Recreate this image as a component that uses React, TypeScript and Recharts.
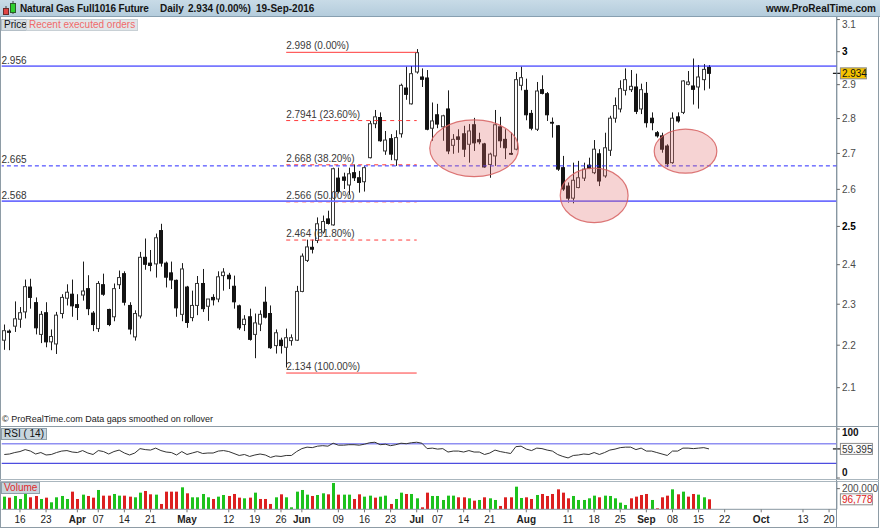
import React from 'react';
import { ComposedChart, Bar, Line, XAxis, YAxis, ReferenceLine, ReferenceArea } from 'recharts';

const FONT = '"Liberation Sans", Arial, Helvetica, sans-serif';
const SLOT_COUNT = 160;
const PLOT_LEFT = 1.7;
const AXIS_W = 43.1;
const CHART_W = 880;

// ---- daily OHLC (11-Mar-2016 .. 19-Sep-2016) ----
const openP = [
  2.212, 2.234, 2.246, 2.263, 2.281, 2.343, 2.304, 2.226, 2.279, 2.208,
  2.203, 2.277, 2.315, 2.325, 2.299, 2.323, 2.339, 2.278, 2.240, 2.349,
  2.287, 2.269, 2.349, 2.377, 2.297, 2.220, 2.271, 2.419, 2.404, 2.402,
  2.489, 2.404, 2.379, 2.360, 2.275, 2.343, 2.267, 2.297, 2.352, 2.295,
  2.317, 2.313, 2.372, 2.373, 2.345, 2.296, 2.250, 2.269, 2.226, 2.251,
  2.305, 2.277, 2.199, 2.212, 2.195, 2.211, 2.212, 2.332, 2.411, 2.445,
  2.463, 2.485, 2.520, 2.504, 2.631, 2.634, 2.612, 2.646, 2.632, 2.621,
  2.688, 2.785, 2.803, 2.707, 2.742, 2.682, 2.756, 2.890, 2.843, 2.938,
  2.923, 2.920, 2.772, 2.811, 2.776, 2.828, 2.723, 2.747, 2.756, 2.726,
  2.782, 2.739, 2.727, 2.669, 2.693, 2.776, 2.740, 2.700, 2.712, 2.898,
  2.883, 2.815, 2.769, 2.885, 2.873, 2.789, 2.779, 2.660, 2.609, 2.576,
  2.605, 2.631, 2.667, 2.646, 2.699, 2.637, 2.709, 2.801, 2.828, 2.883,
  2.885, 2.893, 2.828, 2.874, 2.801, 2.759, 2.750, 2.721, 2.674, 2.805,
  2.818, 2.901, 2.896, 2.893, 2.915, 2.952,
];
const highP = [
  2.250, 2.238, 2.307, 2.293, 2.362, 2.364, 2.317, 2.283, 2.305, 2.238,
  2.281, 2.325, 2.350, 2.362, 2.325, 2.408, 2.373, 2.283, 2.358, 2.377,
  2.289, 2.352, 2.385, 2.383, 2.305, 2.285, 2.433, 2.468, 2.438, 2.481,
  2.507, 2.408, 2.408, 2.362, 2.404, 2.346, 2.334, 2.371, 2.389, 2.313,
  2.325, 2.383, 2.391, 2.379, 2.372, 2.299, 2.273, 2.289, 2.277, 2.285,
  2.344, 2.297, 2.238, 2.218, 2.240, 2.226, 2.346, 2.429, 2.465, 2.465,
  2.524, 2.529, 2.542, 2.660, 2.660, 2.646, 2.660, 2.669, 2.651, 2.664,
  2.793, 2.825, 2.818, 2.764, 2.755, 2.766, 2.903, 2.954, 2.956, 3.008,
  2.949, 2.944, 2.847, 2.843, 2.811, 2.883, 2.755, 2.769, 2.779, 2.784,
  2.802, 2.759, 2.730, 2.702, 2.825, 2.805, 2.769, 2.759, 2.938, 2.954,
  2.918, 2.825, 2.908, 2.928, 2.878, 2.803, 2.781, 2.693, 2.619, 2.674,
  2.679, 2.674, 2.688, 2.738, 2.712, 2.759, 2.808, 2.862, 2.913, 2.949,
  2.944, 2.933, 2.903, 2.908, 2.818, 2.764, 2.759, 2.726, 2.818, 2.818,
  2.913, 2.941, 2.979, 2.959, 2.962, 2.959,
];
const lowP = [
  2.189, 2.188, 2.232, 2.242, 2.265, 2.289, 2.226, 2.205, 2.195, 2.188,
  2.179, 2.265, 2.297, 2.269, 2.261, 2.309, 2.273, 2.234, 2.232, 2.321,
  2.246, 2.258, 2.338, 2.297, 2.226, 2.211, 2.265, 2.387, 2.383, 2.367,
  2.395, 2.342, 2.338, 2.269, 2.258, 2.242, 2.258, 2.273, 2.281, 2.259,
  2.297, 2.305, 2.334, 2.338, 2.289, 2.237, 2.234, 2.211, 2.169, 2.234,
  2.265, 2.191, 2.180, 2.180, 2.147, 2.199, 2.210, 2.330, 2.407, 2.429,
  2.456, 2.481, 2.505, 2.502, 2.589, 2.601, 2.585, 2.623, 2.591, 2.594,
  2.686, 2.772, 2.733, 2.696, 2.681, 2.665, 2.745, 2.855, 2.841, 2.933,
  2.893, 2.766, 2.736, 2.772, 2.736, 2.698, 2.699, 2.702, 2.690, 2.674,
  2.707, 2.726, 2.660, 2.632, 2.665, 2.716, 2.684, 2.696, 2.709, 2.883,
  2.795, 2.766, 2.764, 2.871, 2.793, 2.745, 2.651, 2.596, 2.564, 2.562,
  2.603, 2.623, 2.656, 2.642, 2.609, 2.632, 2.693, 2.788, 2.818, 2.868,
  2.878, 2.813, 2.813, 2.774, 2.766, 2.745, 2.702, 2.662, 2.671, 2.788,
  2.813, 2.898, 2.841, 2.829, 2.883, 2.888,
];
const closeP = [
  2.235, 2.231, 2.264, 2.279, 2.344, 2.317, 2.242, 2.275, 2.208, 2.221,
  2.273, 2.317, 2.330, 2.296, 2.292, 2.333, 2.289, 2.250, 2.352, 2.325,
  2.250, 2.339, 2.367, 2.305, 2.239, 2.277, 2.419, 2.401, 2.398, 2.470,
  2.404, 2.368, 2.361, 2.291, 2.389, 2.255, 2.297, 2.352, 2.289, 2.313,
  2.311, 2.369, 2.381, 2.364, 2.306, 2.242, 2.263, 2.214, 2.254, 2.275,
  2.268, 2.194, 2.230, 2.199, 2.218, 2.218, 2.332, 2.422, 2.446, 2.440,
  2.507, 2.513, 2.508, 2.657, 2.594, 2.625, 2.643, 2.632, 2.619, 2.660,
  2.785, 2.805, 2.736, 2.738, 2.698, 2.745, 2.898, 2.871, 2.933, 2.997,
  2.916, 2.769, 2.793, 2.784, 2.808, 2.707, 2.740, 2.740, 2.712, 2.764,
  2.730, 2.733, 2.662, 2.698, 2.782, 2.736, 2.716, 2.698, 2.915, 2.921,
  2.811, 2.772, 2.881, 2.874, 2.811, 2.788, 2.656, 2.601, 2.576, 2.625,
  2.632, 2.656, 2.658, 2.712, 2.623, 2.716, 2.801, 2.838, 2.888, 2.915,
  2.895, 2.821, 2.885, 2.788, 2.788, 2.750, 2.712, 2.671, 2.801, 2.793,
  2.911, 2.908, 2.886, 2.923, 2.946, 2.934,
];
const volume = [
  122500, 112800, 129000, 99900, 148300, 116100, 129000, 99900, 112800, 67700,
  116100, 129000, 99900, 170900, 99900, 141900, 129000, 112800, 187000, 132200,
  132200, 148300, 132200, 132200, 122500, 116100, 161200, 177300, 145100, 141900,
  51600, 170900, 170900, 170900, 212800, 154800, 116100, 116100, 148300, 116100,
  99900, 122500, 138600, 129000, 148300, 112800, 106400, 112800, 161200, 99900,
  99900, 51600, 116100, 145100, 116100, 19300, 170900, 187000, 141900, 129000,
  138600, 154800, 145100, 254700, 141900, 141900, 141900, 99900, 145100, 122500,
  132200, 112800, 122500, 132200, 51600, 99900, 161200, 148300, 148300, 106400,
  19300, 161200, 129000, 129000, 90300, 132200, 132200, 116100, 116100, 106400,
  83800, 90300, 116100, 106400, 90300, 32200, 116100, 116100, 219000, 109600,
  116100, 99900, 138600, 148300, 129000, 148300, 193400, 161200, 106400, 129000,
  90300, 90300, 106400, 132200, 116100, 132200, 129000, 106400, 64500, 41900,
  106400, 122500, 138600, 148300, 90300, 9700, 116100, 132200, 193400, 145100,
  170900, 122500, 148300, 141900, 116100, 96778,
];
const volColor = (
  'grgggrrgrg' + 'gggrrgrrgr' + 'rggrrggrrg' + 'rrrrgrgggg' + 'rggrrrgrgr' +
  'rrgrgggggr' + 'ggrgrggrrg' + 'grggrggrgg' + 'rrgggggrrg' + 'rgrggrrrgg' +
  'rrgrrrrrrg' + 'ggggrggggg' + 'rrrrgrrrgr' + 'grrggr'
).split('');
const rsiVals = [
  48, 49, 52, 54, 58, 55, 49, 52, 47, 48,
  52, 55, 56, 53, 52, 56, 51, 48, 56, 54,
  49, 54, 57, 51, 47, 51, 60, 58, 57, 61,
  56, 53, 52, 47, 54, 48, 51, 54, 50, 51,
  51, 55, 56, 54, 50, 46, 48, 44, 47, 49,
  47, 42, 45, 44, 46, 46, 54, 60, 63, 62,
  65, 66, 65, 71, 67, 67, 68, 68, 67, 69,
  72, 73, 68, 69, 66, 68, 71, 70, 72, 73,
  71, 60, 61, 59, 60, 53, 55, 55, 53, 56,
  53, 53, 48, 51, 57, 54, 52, 50, 64, 65,
  59, 56, 61, 60, 57, 55, 48, 44, 41, 46,
  47, 49, 48, 52, 48, 52, 57, 59, 62, 63,
  63, 58, 61, 55, 55, 52, 49, 46, 55, 55,
  61, 61, 60, 61, 62, 59.395,
];

// ---- axis labels ----
const tickIdx = [3, 8, 14, 18, 23, 28, 35, 43, 48, 53, 57, 64, 69, 74, 79, 83, 88, 93, 100, 108, 113, 118, 123, 128, 133, 138, 145, 153, 158];
const tickText = ['16', '23', 'Apr', '07', '14', '21', 'May', '12', '19', '26', 'Jun', '09', '16', '23', 'Jul', '07', '14', '21', 'Aug', '11', '18', '25', 'Sep', '08', '15', '22', 'Oct', '13', '20'];
const monthNames = ['Apr', 'May', 'Jun', 'Jul', 'Aug', 'Sep', 'Oct'];
const priceTicks = [2.1, 2.2, 2.3, 2.4, 2.5, 2.6, 2.7, 2.8, 2.9, 3, 3.1];
const boldPriceTicks = [2.5, 3];
const PRICE_DOMAIN = [2.0129, 3.1081];
const SCALE_EXPONENT = 0.2;

// ---- annotations ----
const levelValues = [2.956, 2.665, 2.568];
const levelText = ['2.956', '2.665', '2.568'];
const fibValues = [2.998, 2.7941, 2.668, 2.566, 2.464, 2.134];
const fibText = ['2.998 (0.00%)', '2.7941 (23.60%)', '2.668 (38.20%)', '2.566 (50.00%)', '2.464 (61.80%)', '2.134 (100.00%)'];
const fibFrom = 54;
const fibTo = 79;
const zoneX1 = [82, 107, 125];
const zoneX2 = [98, 119, 136];
const zoneLow = [2.635, 2.51, 2.6446];
const zoneHigh = [2.796, 2.6585, 2.7692];
const lastPrice = 2.934;
const lastRsi = 59.395;
const lastVolume = 96778;
const rsiLevels = [70, 30];

const GREEN = '#1dc21d';
const RED = '#dc2020';

function makePowScale(exponent: number): any {
  let dom: number[] = [1, 2];
  let rng: number[] = [0, 1];
  const f = (v: number) => Math.pow(v, exponent);
  const s: any = (v: any) => {
    const n = Number(v);
    const t = (f(n) - f(dom[0])) / (f(dom[1]) - f(dom[0]));
    return rng[0] + t * (rng[1] - rng[0]);
  };
  s.domain = (d?: any[]) => {
    if (d === undefined) return dom.slice();
    dom = d.map(Number);
    return s;
  };
  s.range = (r?: any[]) => {
    if (r === undefined) return rng.slice();
    rng = r.map(Number);
    return s;
  };
  s.invert = (y: number) => {
    const t = (y - rng[0]) / (rng[1] - rng[0]);
    return Math.pow(f(dom[0]) + t * (f(dom[1]) - f(dom[0])), 1 / exponent);
  };
  s.copy = () => makePowScale(exponent).domain(dom).range(rng);
  s.ticks = (count = 10) => {
    const out: number[] = [];
    const step = (dom[1] - dom[0]) / count;
    for (let k = 0; k <= count; k++) out.push(dom[0] + k * step);
    return out;
  };
  s.tickFormat = () => (v: number) => String(v);
  s.nice = () => s;
  s.clamp = () => s;
  return s;
}
const priceScale = makePowScale(SCALE_EXPONENT);
const F = (v: number) => Math.pow(v, SCALE_EXPONENT);

const rows = Array.from({ length: SLOT_COUNT }, (_, i) => {
  if (i >= openP.length) return { i } as any;
  return {
    i,
    o: openP[i],
    h: highP[i],
    l: lowP[i],
    c: closeP[i],
    range: [lowP[i], highP[i]],
    v: volume[i],
    vc: volColor[i],
    rsi: rsiVals[i],
  };
});

const Candle = (props: any) => {
  const { x, y, width, height, payload } = props;
  if (!payload || payload.o == null || !isFinite(y) || !isFinite(height)) return <g />;
  const { o, h, l, c } = payload;
  const span = F(h) - F(l);
  const py = (v: number) => (span > 0 ? y + ((F(h) - F(v)) / span) * height : y);
  const cx = Math.round(x + width / 2) + 0.5;
  const up = c >= o;
  const top = py(Math.max(o, c));
  const bot = py(Math.min(o, c));
  return (
    <g>
      <line x1={cx} x2={cx} y1={y} y2={y + height} stroke="#1c1c1c" strokeWidth={1} />
      <rect
        x={cx - 2}
        y={top}
        width={3}
        height={Math.max(bot - top, 0.8)}
        fill={up ? '#ffffff' : '#141414'}
        stroke={up ? '#3a3a3a' : '#141414'}
        strokeWidth={1}
      />
    </g>
  );
};

const VolBar = (props: any) => {
  const { x, y, width, height, payload } = props;
  if (!payload || payload.v == null || !isFinite(y) || !isFinite(height)) return <g />;
  const cx = Math.round(x + width / 2);
  return <rect x={cx - 1} y={y} width={3} height={height} fill={payload.vc === 'g' ? GREEN : RED} />;
};

const Ellipse = (props: any) => {
  const { x, y, width, height } = props;
  if (!isFinite(x) || !isFinite(y)) return <g />;
  return (
    <ellipse
      cx={x + width / 2}
      cy={y + height / 2}
      rx={Math.abs(width) / 2}
      ry={Math.abs(height) / 2}
      fill="rgba(226,110,110,0.30)"
      stroke="rgba(214,95,95,0.85)"
      strokeWidth={1.2}
    />
  );
};

const PriceTick = (p: any) => {
  const v = p.payload ? p.payload.value : null;
  const bold = boldPriceTicks.includes(v);
  const y = Math.max(p.y, 7.3);
  return (
    <text x={p.x} y={y} dy={3.6} fontSize={10} fontFamily={FONT} fill={bold ? '#000' : '#4a4a4a'} fontWeight={bold ? 700 : 400}>
      {String(v)}
    </text>
  );
};

const RsiTick = (p: any) => {
  const v = p.payload ? p.payload.value : null;
  const y = v === 100 ? p.y + 7.4 : p.y - 1.6;
  return (
    <text x={p.x} y={y} fontSize={10} fontFamily={FONT} fill="#111" fontWeight={700}>
      {String(v)}
    </text>
  );
};

const VolTick = (p: any) => {
  const v = p.payload ? p.payload.value : 0;
  return (
    <text x={p.x} y={p.y} dy={3.6} fontSize={10} fontFamily={FONT} fill="#4a4a4a">
      {Number(v).toLocaleString('en-US')}
    </text>
  );
};

const XTick = (p: any) => {
  const idx = tickIdx.indexOf(p.payload ? p.payload.value : -1);
  if (idx < 0) return <g />;
  const text = tickText[idx];
  const bold = monthNames.includes(text);
  return (
    <text x={p.x} y={p.y} dy={9} textAnchor="middle" fontSize={10} fontFamily={FONT} fill="#222" fontWeight={bold ? 700 : 400}>
      {text}
    </text>
  );
};

const levelLabel = (text: string) => (props: any) => {
  const vb = props.viewBox;
  if (!vb) return <g />;
  return (
    <text x={1.5} y={vb.y - 2.5} fontSize={10} fontFamily={FONT} fill="#333">
      {text}
    </text>
  );
};

const fibLabel = (text: string) => (props: any) => {
  const vb = props.viewBox;
  if (!vb) return <g />;
  return (
    <text x={vb.x} y={vb.y - 3} fontSize={10} fontFamily={FONT} fill="#3a3a3a">
      {text}
    </text>
  );
};

const tagLabel = (text: string, bg: string, color: string, boxW: number, tick: boolean) => (props: any) => {
  const vb = props.viewBox;
  if (!vb) return <g />;
  const ax = vb.x + vb.width;
  const cy = vb.y;
  return (
    <g>
      {tick ? <line x1={ax - 4} x2={ax + 4} y1={cy} y2={cy} stroke="#111" strokeWidth={1.2} /> : null}
      <rect x={ax + 3.5} y={cy - 5.5} width={boxW} height={11} fill={bg} stroke="#8c8c8c" strokeWidth={1} />
      <text x={ax + 5} y={cy + 3.6} fontSize={10} fontFamily={FONT} fill={color}>
        {text}
      </text>
    </g>
  );
};

const boxStyle: React.CSSProperties = {
  position: 'absolute',
  fontFamily: FONT,
  fontSize: 10,
  lineHeight: '10px',
  padding: '0 2px',
  whiteSpace: 'nowrap',
};

export default function App() {
  return (
    <div style={{ position: 'absolute', left: 0, top: 0, width: 880, height: 528, background: '#fff', overflow: 'hidden', fontFamily: FONT }}>
      {/* frame lines */}
      <div style={{ position: 'absolute', left: 0, top: 17, width: 1, height: 511, background: '#8e9ca6' }} />
      <div style={{ position: 'absolute', left: 878, top: 17, width: 1, height: 511, background: '#8e9ca6' }} />
      <div style={{ position: 'absolute', left: 836, top: 17, width: 1, height: 511, background: '#8796a1' }} />
      <div style={{ position: 'absolute', left: 0, top: 426, width: 879, height: 1, background: '#8e9ca6' }} />
      <div style={{ position: 'absolute', left: 0, top: 479, width: 879, height: 1, background: '#aab6be' }} />
      <div style={{ position: 'absolute', left: 0, top: 481, width: 879, height: 1, background: '#aab6be' }} />
      <div style={{ position: 'absolute', left: 0, top: 527, width: 879, height: 1, background: '#8e9ca6' }} />

      {/* header */}
      <div style={{ position: 'absolute', left: 0, top: 0, width: 880, height: 16, background: 'linear-gradient(#c8dbe7, #b4ccdc)', borderBottom: '1px solid #879fb0' }}>
        <svg width={18} height={16} style={{ position: 'absolute', left: 1, top: 0 }}>
          <line x1={5} x2={5} y1={6} y2={15} stroke="#444" />
          <rect x={2.5} y={8.5} width={5} height={6} fill="#e04545" stroke="#6a2a2a" />
          <line x1={12} x2={12} y1={1} y2={14} stroke="#444" />
          <rect x={9.5} y={3.5} width={5} height={9} fill="#2fcf2f" stroke="#2a5a2a" />
        </svg>
        <div style={{ position: 'absolute', left: 20, top: 3, fontSize: 10, fontWeight: 700, color: '#151515', whiteSpace: 'nowrap', letterSpacing: '-0.15px' }}>Natural Gas Full1016 Future</div>
        <div style={{ position: 'absolute', left: 160, top: 3, fontSize: 10, fontWeight: 700, color: '#151515' }}>Daily</div>
        <div style={{ position: 'absolute', left: 188, top: 3, fontSize: 10, fontWeight: 700, color: '#151515' }}>2.934 (0.00%)</div>
        <div style={{ position: 'absolute', left: 256, top: 3, fontSize: 10, fontWeight: 700, color: '#151515' }}>19-Sep-2016</div>
        <div style={{ position: 'absolute', right: 4, top: 3, fontSize: 10, fontWeight: 700, color: '#151515' }}>www.ProRealTime.com</div>
      </div>

      {/* price panel */}
      <div style={{ position: 'absolute', left: 0, top: 17 }}>
        <ComposedChart width={CHART_W} height={409} data={rows} margin={{ top: 0, right: 0, bottom: 0, left: PLOT_LEFT }}>
          <XAxis dataKey="i" type="category" hide />
          <YAxis
            orientation="right"
            type="number"
            scale={priceScale}
            domain={PRICE_DOMAIN}
            allowDataOverflow
            ticks={priceTicks}
            interval={0}
            width={AXIS_W}
            axisLine={{ stroke: '#8796a1' }}
            tickLine={{ stroke: '#666' }}
            tickSize={3}
            tick={<PriceTick />}
          />
          {fibValues.map((v, k) => (
            <ReferenceLine
              key={'fib' + k}
              segment={[{ x: fibFrom, y: v }, { x: fibTo, y: v }]}
              stroke="#ff3a3a"
              strokeWidth={1}
              strokeDasharray={k === 0 || k === fibValues.length - 1 ? undefined : '4 4'}
              label={fibLabel(fibText[k])}
            />
          ))}
          <Bar dataKey="range" shape={(p: any) => <Candle {...p} />} isAnimationActive={false} />
          <ReferenceLine y={levelValues[0]} stroke="#1010ff" strokeWidth={1} label={levelLabel(levelText[0])} />
          <ReferenceLine y={levelValues[1]} stroke="#2a2aff" strokeWidth={1} strokeDasharray="4 3" label={levelLabel(levelText[1])} />
          <ReferenceLine y={levelValues[2]} stroke="#6e6eff" strokeWidth={1.6} label={levelLabel(levelText[2])} />
          {zoneX1.map((x1, k) => (
            <ReferenceArea
              key={'zone' + k}
              x1={x1}
              x2={zoneX2[k]}
              y1={zoneLow[k]}
              y2={zoneHigh[k]}
              shape={(p: any) => <Ellipse {...p} />}
              ifOverflow="visible"
              zIndex={600}
            />
          ))}
          <ReferenceLine y={lastPrice} stroke="none" strokeOpacity={0} label={tagLabel('2.934', '#f5c400', '#111', 26, true)} />
        </ComposedChart>
      </div>

      {/* RSI panel */}
      <div style={{ position: 'absolute', left: 0, top: 427 }}>
        <ComposedChart width={CHART_W} height={52} data={rows} margin={{ top: 0, right: 0, bottom: 0, left: PLOT_LEFT }}>
          <XAxis dataKey="i" type="number" domain={[-0.5, SLOT_COUNT - 0.5]} allowDataOverflow hide />
          <YAxis
            orientation="right"
            type="number"
            domain={[-2, 104.1]}
            allowDataOverflow
            ticks={[0, 100]}
            interval={0}
            width={AXIS_W}
            axisLine={{ stroke: '#8796a1' }}
            tickLine={{ stroke: '#666' }}
            tickSize={3}
            tick={<RsiTick />}
          />
          <ReferenceLine y={rsiLevels[0]} stroke="#8f8ff2" strokeWidth={1.6} />
          <ReferenceLine y={rsiLevels[1]} stroke="#4d4de0" strokeWidth={1.2} />
          <Line dataKey="rsi" stroke="#333" strokeWidth={1} dot={false} isAnimationActive={false} connectNulls={false} />
          <ReferenceLine y={lastRsi} stroke="none" strokeOpacity={0} label={tagLabel('59.395', '#fbfbfb', '#333', 32, true)} />
        </ComposedChart>
      </div>

      {/* Volume panel */}
      <div style={{ position: 'absolute', left: 0, top: 481 }}>
        <ComposedChart width={CHART_W} height={47} data={rows} margin={{ top: 0, right: 0, bottom: 0, left: PLOT_LEFT }}>
          <XAxis
            dataKey="i"
            type="category"
            ticks={tickIdx}
            interval={0}
            height={18.7}
            axisLine={{ stroke: '#8796a1' }}
            tickLine={{ stroke: '#777' }}
            tickSize={3}
            tick={<XTick />}
          />
          <YAxis
            orientation="right"
            type="number"
            domain={[0, 274000]}
            allowDataOverflow
            ticks={[200000]}
            interval={0}
            width={AXIS_W}
            axisLine={{ stroke: '#8796a1' }}
            tickLine={{ stroke: '#666' }}
            tickSize={3}
            tick={<VolTick />}
          />
          <Bar dataKey="v" shape={(p: any) => <VolBar {...p} />} isAnimationActive={false} />
          <ReferenceLine y={lastVolume} stroke="none" strokeOpacity={0} label={tagLabel('96,778', '#fbfbfb', '#e02020', 32, false)} />
        </ComposedChart>
      </div>

      {/* panel captions */}
      <div style={{ ...boxStyle, left: 1, top: 19, height: 10, background: '#d5dce1', border: '1px solid #b3bec6', color: '#111' }}>Price</div>
      <div style={{ ...boxStyle, left: 26, top: 19, height: 10, background: '#e1e5e8', border: '1px solid #c8d0d5', color: '#f06a6a' }}>Recent executed orders</div>
      <div style={{ position: 'absolute', left: 2, top: 414, fontSize: 9, color: '#222', fontFamily: FONT, whiteSpace: 'nowrap' }}>© ProRealTime.com Data gaps smoothed on rollover</div>
      <div style={{ ...boxStyle, left: 1, top: 428, height: 10, background: '#c8d5dd', border: '1px solid #8fa0ab', color: '#111' }}>RSI ( 14)</div>
      <div style={{ ...boxStyle, left: 1, top: 482, height: 10, background: '#c8d5dd', border: '1px solid #8fa0ab', color: '#e02a2a' }}>Volume</div>
    </div>
  );
}
